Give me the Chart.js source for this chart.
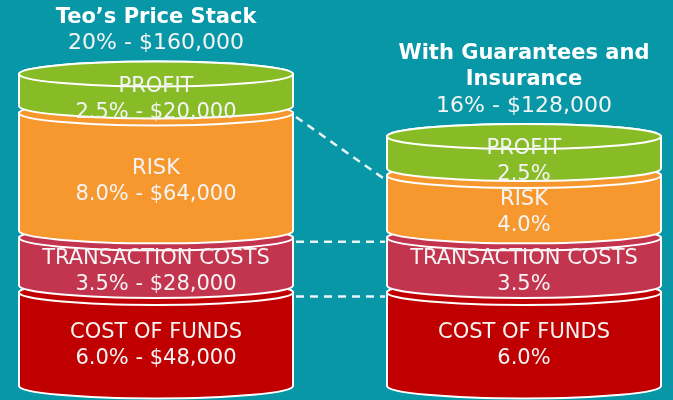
<!DOCTYPE html>
<html>
<head>
<meta charset="utf-8">
<script src="https://cdn.jsdelivr.net/npm/chart.js@4"></script>
<style>
  html, body { margin: 0; padding: 0; background: #0897a7; }
  #wrap { width: 673px; height: 400px; position: relative; }
</style>
</head>
<body>
<div id="wrap"><canvas id="stackChart"></canvas></div>
<script>
// data
const stacks = ['Teo\u2019s Price Stack', 'With Guarantees and Insurance'];
const stackTitleLines = [['Teo\u2019s Price Stack'], ['With Guarantees and', 'Insurance']];
const stackTotals = ['20% - $160,000', '16% - $128,000'];
const layers = ['COST OF FUNDS', 'TRANSACTION COSTS', 'RISK', 'PROFIT'];
const teoPct = [6.0, 3.5, 8.0, 2.5];
const teoDollars = [48000, 28000, 64000, 20000];
const guaranteedPct = [6.0, 3.5, 4.0, 2.5];
const layerColors = ['#c00000', '#c3344f', '#f7982f', '#87bc26'];

function segmentLabel(i, j) {
  if (i === 0) {
    return teoPct[j].toFixed(1) + '% - $' + teoDollars[j].toLocaleString('en-US');
  }
  return guaranteedPct[j].toFixed(1) + '%';
}

const FONT = '"DejaVu Sans", Verdana, sans-serif';

const cylinderPlugin = {
  id: 'cylinders',
  beforeDatasetDraw() { return false; },
  afterDatasetsDraw(chart) {
    const ctx = chart.ctx;
    const ry = 12.5;
    const gap = 7;
    ctx.save();

    // cylinders, bottom layer first so upper ones overlap
    chart.data.labels.forEach((_, i) => {
      chart.data.datasets.forEach((ds, j) => {
        const bar = chart.getDatasetMeta(j).data[i];
        const half = bar.width / 2;
        const x = bar.x;
        const top = bar.y;
        const bot = bar.base - (j > 0 ? gap : 0);
        ctx.fillStyle = ds.backgroundColor;
        ctx.strokeStyle = '#ffffff';
        ctx.lineWidth = 2;
        ctx.beginPath();
        ctx.moveTo(x - half, top);
        ctx.lineTo(x - half, bot);
        ctx.ellipse(x, bot, half, ry, 0, Math.PI, 0, true);
        ctx.lineTo(x + half, top);
        ctx.ellipse(x, top, half, ry, 0, 0, Math.PI, true);
        ctx.closePath();
        ctx.fill();
        ctx.stroke();
        ctx.beginPath();
        ctx.ellipse(x, top, half, ry, 0, 0, Math.PI * 2);
        ctx.fill();
        ctx.stroke();
      });
    });

    // dashed connectors between the two stacks
    ctx.setLineDash([8, 6]);
    ctx.lineWidth = 2.5;
    ctx.strokeStyle = '#e8f4f6';
    for (let k = 0; k < layers.length - 1; k++) {
      const a = chart.getDatasetMeta(k).data[0];
      const b = chart.getDatasetMeta(k).data[1];
      ctx.beginPath();
      ctx.moveTo(a.x + a.width / 2 + 3, a.y + 4);
      ctx.lineTo(b.x - b.width / 2 - 2, b.y + 4);
      ctx.stroke();
    }
    ctx.setLineDash([]);

    // segment labels
    ctx.textAlign = 'center';
    ctx.textBaseline = 'middle';
    ctx.font = '21px ' + FONT;
    ctx.fillStyle = '#f4f4f4';
    chart.data.labels.forEach((_, i) => {
      chart.data.datasets.forEach((ds, j) => {
        const bar = chart.getDatasetMeta(j).data[i];
        const cy = (bar.y + bar.base) / 2 + 6;
        ctx.fillText(layers[j], bar.x, cy - 13);
        ctx.fillText(segmentLabel(i, j), bar.x, cy + 13);
      });
    });

    // stack titles
    chart.data.labels.forEach((_, i) => {
      const topBar = chart.getDatasetMeta(layers.length - 1).data[i];
      let y = topBar.y - ry - 18;
      ctx.font = '22px ' + FONT;
      ctx.fillStyle = '#f4f4f4';
      ctx.fillText(stackTotals[i], topBar.x, y);
      ctx.font = 'bold 21px ' + FONT;
      ctx.fillStyle = '#ffffff';
      const lines = stackTitleLines[i];
      for (let l = lines.length - 1; l >= 0; l--) {
        y -= 26;
        ctx.fillText(lines[l], topBar.x, y);
      }
    });
    ctx.restore();
  }
};

const ctx = document.getElementById('stackChart').getContext('2d');
const chart = new Chart(ctx, {
  type: 'bar',
  data: {
    labels: stacks,
    datasets: layers.map((name, j) => ({
      label: name,
      data: [teoPct[j], guaranteedPct[j]],
      backgroundColor: layerColors[j],
      borderWidth: 0,
      barThickness: 274
    }))
  },
  options: {
    responsive: true,
    maintainAspectRatio: false,
    animation: false,
    layout: { padding: { left: 156, right: 149, top: 74, bottom: 14 } },
    plugins: { legend: { display: false }, tooltip: { enabled: false } },
    scales: {
      x: { stacked: true, offset: false, display: false },
      y: { stacked: true, min: 0, max: 20, display: false }
    }
  },
  plugins: [cylinderPlugin]
});
</script>
</body>
</html>
